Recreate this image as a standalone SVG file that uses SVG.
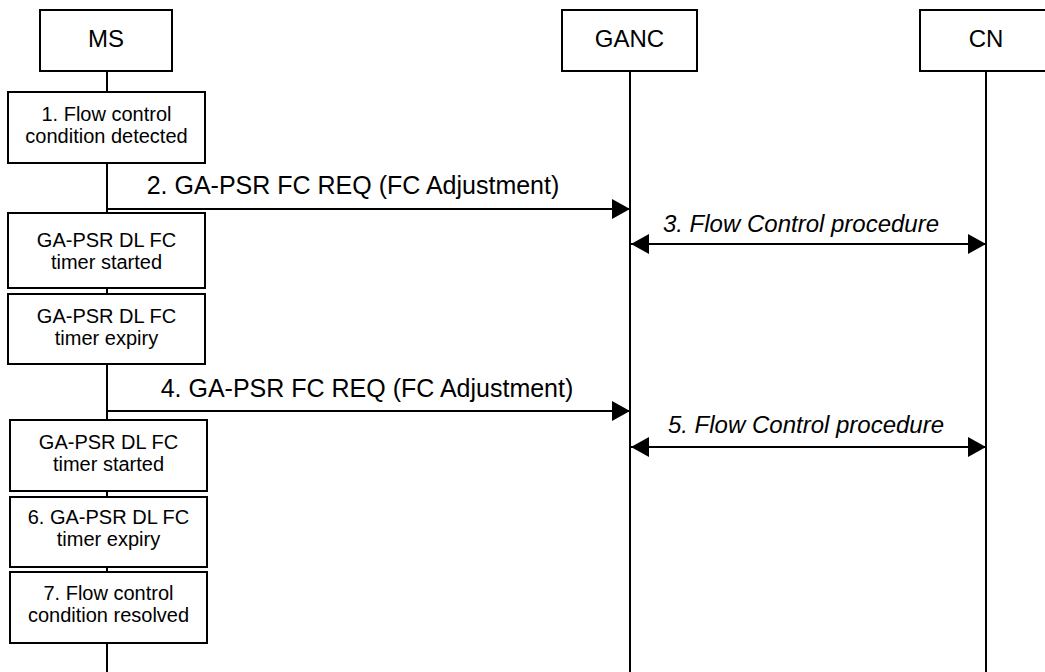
<svg xmlns="http://www.w3.org/2000/svg" width="1045" height="672" viewBox="0 0 1045 672">
<style>
.box{fill:#fff;stroke:#000;stroke-width:2}
.life{stroke:#000;stroke-width:2;fill:none}
.msg{stroke:#000;stroke-width:2;fill:none}
.t{font-family:"Liberation Sans",Arial,sans-serif;fill:#000}
.ent{font-size:24px;text-anchor:middle}
.bt{font-size:20px;text-anchor:middle}
.ml{font-size:25px}
.it{font-size:24px;font-style:italic}
</style>
<defs>
<marker id="ah" viewBox="0 0 18 20" refX="18" refY="10" markerWidth="18" markerHeight="20" markerUnits="userSpaceOnUse" orient="auto-start-reverse">
<path d="M0,0 L18,10 L0,20 z" fill="#000"/>
</marker>
</defs>
<rect width="1045" height="672" fill="#fff"/>
<g id="lifelines">
<line class="life" x1="107" y1="71" x2="107" y2="672"/>
<line class="life" x1="630" y1="71" x2="630" y2="672"/>
<line class="life" x1="986" y1="71" x2="986" y2="672"/>
</g>
<g id="ms">
<rect class="box" x="40" y="10" width="132" height="61"/>
<text class="t ent" x="106" y="47">MS</text>
</g>
<g id="ganc">
<rect class="box" x="562" y="10" width="135" height="61"/>
<text class="t ent" x="629.5" y="47">GANC</text>
</g>
<g id="cn">
<rect class="box" x="920" y="10" width="134" height="61"/>
<text class="t ent" x="986" y="47">CN</text>
</g>
<g id="step1">
<rect class="box" x="8" y="92" width="197" height="71"/>
<text class="t bt" x="106.5" y="121">1. Flow control</text>
<text class="t bt" x="106.5" y="143">condition detected</text>
</g>
<g id="timer-started-1">
<rect class="box" x="8" y="213" width="197" height="75"/>
<text class="t bt" x="106.5" y="247">GA-PSR DL FC</text>
<text class="t bt" x="106.5" y="269">timer started</text>
</g>
<g id="timer-expiry-1">
<rect class="box" x="8" y="294" width="197" height="70"/>
<text class="t bt" x="106.5" y="323">GA-PSR DL FC</text>
<text class="t bt" x="106.5" y="345">timer expiry</text>
</g>
<g id="timer-started-2">
<rect class="box" x="10" y="420" width="197" height="71"/>
<text class="t bt" x="108.5" y="449">GA-PSR DL FC</text>
<text class="t bt" x="108.5" y="471">timer started</text>
</g>
<g id="step6">
<rect class="box" x="10" y="497" width="197" height="70"/>
<text class="t bt" x="108.5" y="524">6. GA-PSR DL FC</text>
<text class="t bt" x="108.5" y="546">timer expiry</text>
</g>
<g id="step7">
<rect class="box" x="10" y="572" width="197" height="71"/>
<text class="t bt" x="108.5" y="600">7. Flow control</text>
<text class="t bt" x="108.5" y="622">condition resolved</text>
</g>
<g id="connectors">
<line class="msg" x1="107" y1="209" x2="630" y2="209" marker-end="url(#ah)"/>
<text class="t ml" x="353" y="194" text-anchor="middle">2. GA-PSR FC REQ (FC Adjustment)</text>
<line class="msg" x1="631" y1="244" x2="986" y2="244" marker-start="url(#ah)" marker-end="url(#ah)"/>
<text class="t it" x="801" y="232" text-anchor="middle">3. Flow Control procedure</text>
<line class="msg" x1="107" y1="411" x2="630" y2="411" marker-end="url(#ah)"/>
<text class="t ml" x="367" y="397" text-anchor="middle">4. GA-PSR FC REQ (FC Adjustment)</text>
<line class="msg" x1="631" y1="447" x2="986" y2="447" marker-start="url(#ah)" marker-end="url(#ah)"/>
<text class="t it" x="806" y="433" text-anchor="middle">5. Flow Control procedure</text>
</g>
</svg>
